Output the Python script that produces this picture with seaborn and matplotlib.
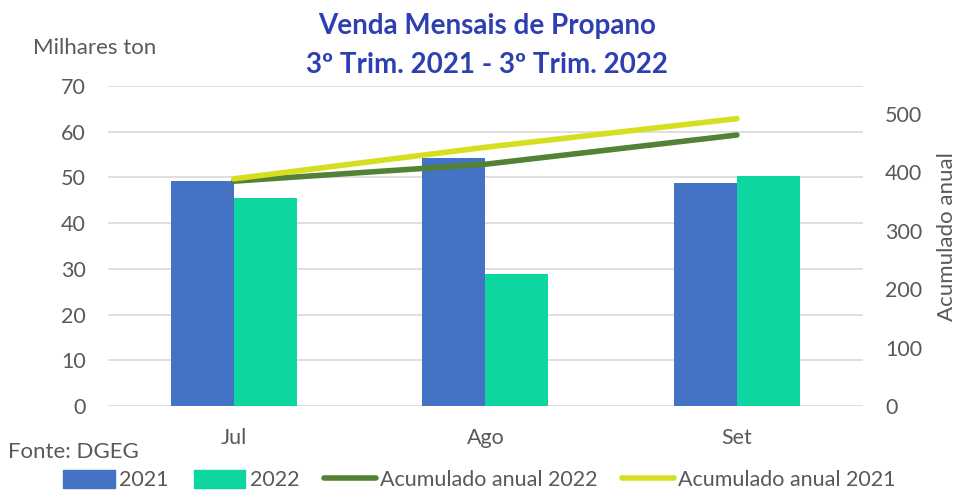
import pandas as pd
import matplotlib.pyplot as plt
import seaborn as sns

# Monthly propane sales (thousand tonnes)
months = ['Jul', 'Ago', 'Set']
sales_2021 = [49.3, 54.3, 48.8]
sales_2022 = [45.6, 28.9, 50.3]
# Year-to-date cumulative (right axis)
acum_2022 = [385, 414, 464]
acum_2021 = [389, 443, 492]

bars = pd.DataFrame({
    'Mes': months * 2,
    'Ano': ['2021'] * 3 + ['2022'] * 3,
    'Valor': sales_2021 + sales_2022,
})

sns.set_theme(style='white')
plt.rcParams['font.family'] = ['Lato', 'DejaVu Sans']
gray = '#595959'

fig = plt.figure(figsize=(9.59, 4.94), dpi=100)
ax = fig.add_axes([0.1126, 0.178, 0.787, 0.648])

sns.barplot(data=bars, x='Mes', y='Valor', hue='Ano', ax=ax,
            palette={'2021': '#4472C4', '2022': '#0DD6A0'},
            width=0.5, saturation=1, legend=False, linewidth=0, zorder=2)
ax.set_ylim(0, 70)
ax.set_xlim(-0.5, 2.5)
ax.set_yticks(range(0, 71, 10))
ax.yaxis.grid(True, color='#D9D9D9', linewidth=1.2, zorder=0)
ax.set_axisbelow(True)
ax.set_xlabel('')
ax.set_ylabel('')
ax.tick_params(axis='y', labelsize=15.5, colors=gray, length=0, pad=16)
ax.tick_params(axis='x', labelsize=15.5, colors=gray, length=0, pad=16)
for s in ax.spines.values():
    s.set_visible(False)

ax2 = ax.twinx()
lines = pd.DataFrame({'Mes': list(range(3)), 'a22': acum_2022, 'a21': acum_2021})
sns.lineplot(data=lines, x='Mes', y='a22', ax=ax2, color='#548235', linewidth=4,
             solid_capstyle='round')
sns.lineplot(data=lines, x='Mes', y='a21', ax=ax2, color='#D5DF1F', linewidth=4,
             solid_capstyle='round')
ax2.set_ylim(0, 548)
ax2.set_yticks(range(0, 501, 100))
ax2.set_xlim(-0.5, 2.5)
ax2.set_xlabel('')
ax2.set_ylabel('')
ax2.tick_params(axis='y', labelsize=15.5, colors=gray, length=0, pad=16)
for s in ax2.spines.values():
    s.set_visible(False)

fig.text(947 / 959, 0.522, 'Acumulado anual', rotation=90, ha='center', va='center',
         fontsize=16, color=gray)
fig.text(0.508, 0.947, 'Venda Mensais de Propano', ha='center', va='center',
         fontsize=20, fontweight='bold', color='#2E3FB2')
fig.text(0.508, 0.868, '3º Trim. 2021 - 3º Trim. 2022', ha='center', va='center',
         fontsize=20, fontweight='bold', color='#2E3FB2')
fig.text(0.034, 0.903, 'Milhares ton', ha='left', va='center', fontsize=16, color=gray)
fig.text(0.008, 0.085, 'Fonte: DGEG', ha='left', va='center', fontsize=16, color=gray)

handles = [
    plt.Rectangle((0, 0), 1, 1, color='#4472C4'),
    plt.Rectangle((0, 0), 1, 1, color='#0DD6A0'),
    plt.Line2D([], [], color='#548235', linewidth=4),
    plt.Line2D([], [], color='#D5DF1F', linewidth=4),
]
labels = ['2021', '2022', 'Acumulado anual 2022', 'Acumulado anual 2021']
fig.legend(handles, labels, loc='center', bbox_to_anchor=(0.5, 0.028), ncol=4,
           frameon=False, fontsize=15.5, labelcolor=gray, handlelength=2.4,
           handleheight=0.9, handletextpad=0.2, columnspacing=1.15,
           borderpad=0)

fig.savefig('out.png', dpi=100)
